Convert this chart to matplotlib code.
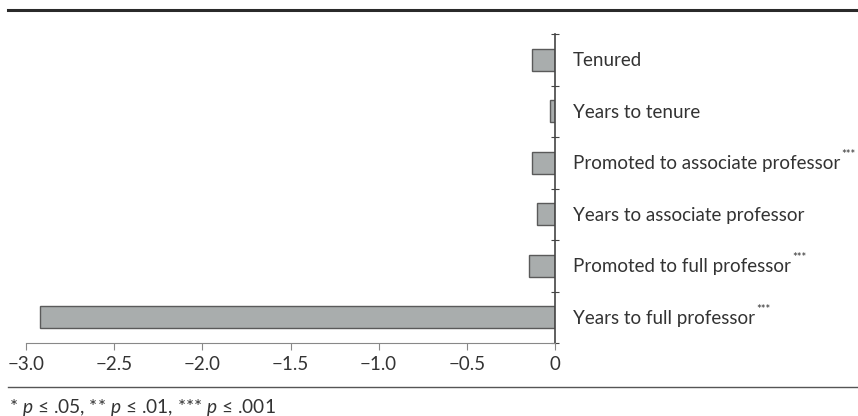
import matplotlib
matplotlib.use("Agg")
import matplotlib.pyplot as plt

categories = [
    "Tenured",
    "Years to tenure",
    "Promoted to associate professor",
    "Years to associate professor",
    "Promoted to full professor",
    "Years to full professor",
]
stars = ["", "", "***", "", "***", "***"]
values = [-0.13, -0.03, -0.13, -0.10, -0.15, -2.92]
xticks = [-3.0, -2.5, -2.0, -1.5, -1.0, -0.5, 0.0]
xtick_labels = ["\u22123.0", "\u22122.5", "\u22122.0", "\u22121.5", "\u22121.0", "\u22120.5", "0"]
footnote = "* $p$ \u2264 .05, ** $p$ \u2264 .01, *** $p$ \u2264 .001"

plt.rcParams["font.family"] = ["Lato", "DejaVu Sans"]
plt.rcParams["mathtext.fontset"] = "custom"
plt.rcParams["mathtext.it"] = "Lato:italic"

W, H = 858, 416
fig = plt.figure(figsize=(W / 100, H / 100), dpi=100)
ax = fig.add_axes([26 / W, (H - 343) / H, 529 / W, 309 / H])

text_color = "#333333"
line_color = "#444444"

ypos = list(range(len(categories)))[::-1]
ax.barh(ypos, values, height=0.43, color="#a9adad", edgecolor="#5a5a5a", linewidth=1.0, zorder=2)

ax.set_xlim(-3.0, 0.0)
ax.set_ylim(-0.5, len(categories) - 0.5)
ax.set_xticks(xticks)
ax.set_xticklabels(xtick_labels, fontsize=13.5, color=text_color)
ax.set_yticks([i - 0.5 for i in range(len(categories) + 1)])
ax.set_yticklabels([])
ax.yaxis.tick_right()
ax.tick_params(axis="y", direction="inout", length=6, width=0.8, color=line_color)
ax.tick_params(axis="x", direction="out", length=5, width=0.8, color="#888888", pad=4)

for side in ["top", "left"]:
    ax.spines[side].set_visible(False)
ax.spines["bottom"].set_color("#888888")
ax.spines["bottom"].set_linewidth(0.8)
ax.spines["right"].set_color(line_color)
ax.spines["right"].set_linewidth(1.2)

# category labels to the right of the zero line, with significance stars
fig.canvas.draw()
renderer = fig.canvas.get_renderer()
for y, name, s in zip(ypos, categories, stars):
    t = ax.annotate(name, xy=(0, y), xytext=(18, -1), textcoords="offset pixels",
                    ha="left", va="center", fontsize=13.5, color=text_color, annotation_clip=False)
    if s:
        bb = t.get_window_extent(renderer)
        fig.text((bb.x1 + 1) / W, (bb.y1 - 5) / H, s, fontsize=8, color=text_color,
                 ha="left", va="bottom")

# rules above the chart and above the footnote
fig.add_artist(plt.Line2D([8 / W, 1], [1 - 10 / H, 1 - 10 / H], color="#2a2a2a", linewidth=2.2))
fig.add_artist(plt.Line2D([8 / W, 1], [1 - 387 / H, 1 - 387 / H], color="#555555", linewidth=1.0))
fig.text(9 / W, 1 - 407 / H, footnote, fontsize=13.8, color=text_color, ha="left", va="center")

fig.savefig("out.png", dpi=100)
